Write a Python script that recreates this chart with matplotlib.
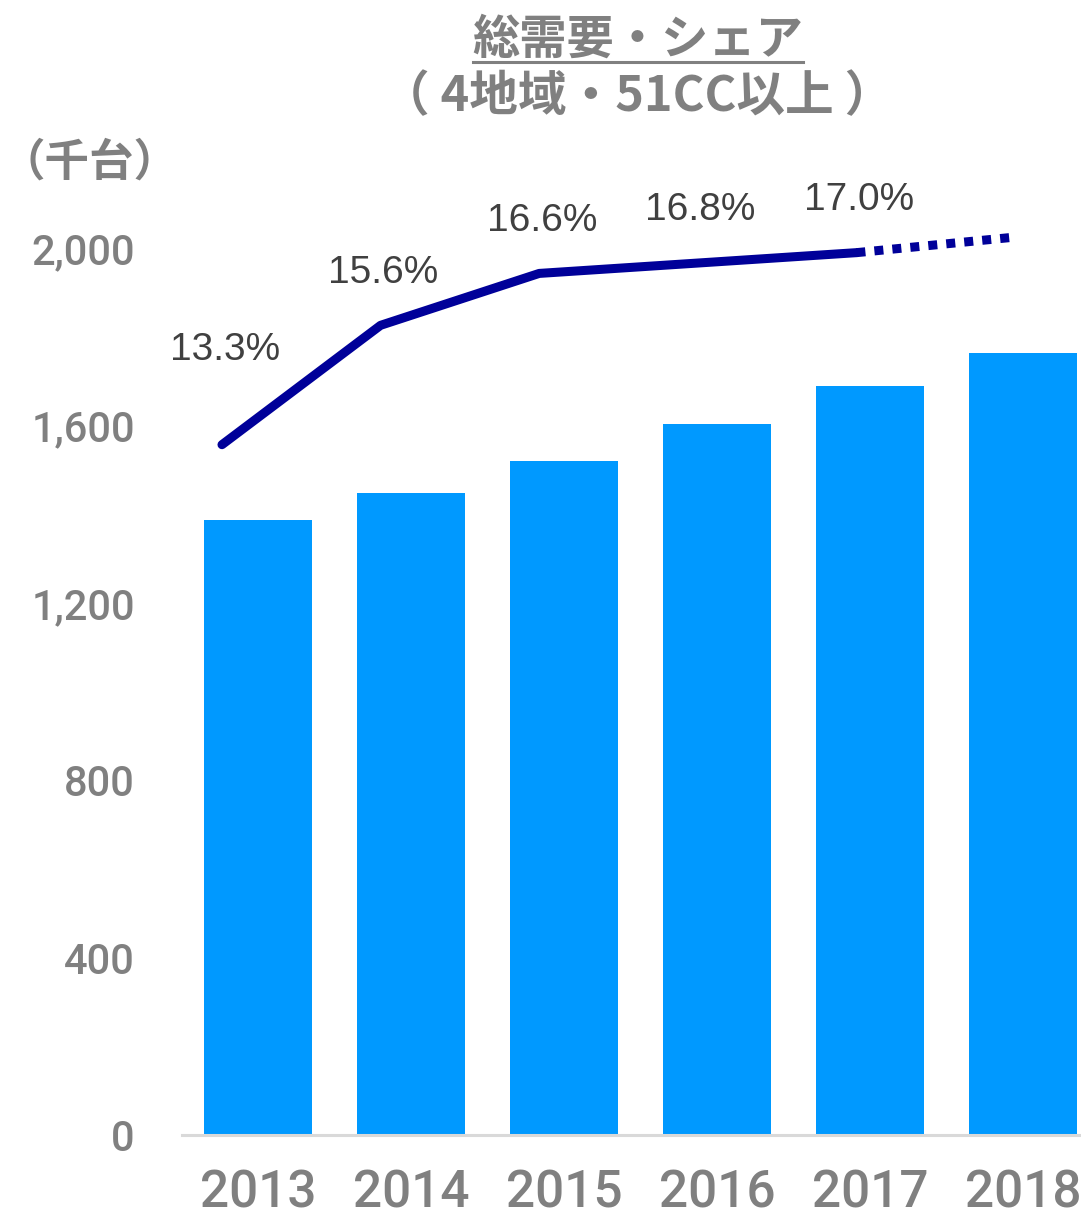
import matplotlib
matplotlib.use("Agg")
import matplotlib.pyplot as plt
from matplotlib.lines import Line2D

years = ["2013", "2014", "2015", "2016", "2017", "2018"]
demand = [1387, 1448, 1520, 1603, 1690, 1765]       # 千台
share = [13.3, 15.6, 16.6, 16.8, 17.0, 17.3]         # %
share_labels = ["13.3%", "15.6%", "16.6%", "16.8%", "17.0%", None]
y_ticks = [0, 400, 800, 1200, 1600, 2000]

GRAY = "#808080"
BAR = "#0099FF"
NAVY = "#000099"
DARK = "#404040"
CJK = ["Noto Sans CJK JP", "DejaVu Sans"]
NUM = ["Roboto", "Liberation Sans", "DejaVu Sans"]
LAT = ["Liberation Sans", "DejaVu Sans"]

W, H = 1081, 1218
fig = plt.figure(figsize=(W / 100, H / 100), dpi=100)
rect = [182 / W, 83 / H, 899 / W, 1064 / H]

ax = fig.add_axes(rect)
x = range(len(years))
ax.bar(x, demand, width=0.706, color=BAR, zorder=2)
ax.set_xlim(-0.497, 5.379)
ax.set_ylim(0, 2400)
ax.set_yticks(y_ticks)
ax.set_yticklabels([f"{v:,}" for v in y_ticks], fontsize=30, fontweight="medium",
                   color=GRAY, family=NUM)
ax.set_xticks(list(x))
ax.set_xticklabels(years, fontsize=37, fontweight="medium", color=GRAY, family=NUM)
ax.tick_params(axis="y", length=0, pad=34)
ax.tick_params(axis="x", length=0, pad=24)
for s in ["top", "right", "left"]:
    ax.spines[s].set_visible(False)
ax.spines["bottom"].set_color("#D9D9D9")
ax.spines["bottom"].set_linewidth(2.2)

# share line on its own axes
ax2 = fig.add_axes(rect, frameon=False)
ax2.set_xlim(-0.252, 5.416)
ax2.set_ylim(0, 20.5)
ax2.set_xticks([])
ax2.set_yticks([])
ax2.plot(range(5), share[:5], color=NAVY, lw=6.5, solid_capstyle="round",
         solid_joinstyle="round")
ax2.plot([4, 5], share[4:], color=NAVY, lw=6.5, linestyle=(0, (1, 1)),
         dash_capstyle="butt")
for i, lab in enumerate(share_labels):
    if lab is None:
        continue
    dy = 68 if i == 0 else 38
    ax2.annotate(lab, (i, share[i]), xytext=(2, dy), textcoords="offset points",
                 ha="center", va="center", fontsize=28, color=DARK, family=LAT)

# titles
t1 = fig.text(638 / W, 1 - 40 / H, "総需要・シェア", ha="center", va="center",
              fontsize=34, fontweight="bold", color=GRAY, family=CJK)
fig.text(637 / W, 1 - 97 / H, "（ 4地域・51CC以上 ）", ha="center", va="center",
         fontsize=35, fontweight="bold", color=GRAY, family=CJK)
fig.text(90 / W, 1 - 163 / H, "（千台）", ha="center", va="center",
         fontsize=32, fontweight="bold", color=GRAY, family=CJK)

# underline under first title line
r = fig.canvas.get_renderer()
bb = t1.get_window_extent(renderer=r)
uy = 1 - 62 / H
fig.add_artist(Line2D([bb.x0 / W, bb.x1 / W], [uy, uy], color=GRAY, lw=2.2,
                      transform=fig.transFigure))

fig.savefig("out.png", dpi=100)
